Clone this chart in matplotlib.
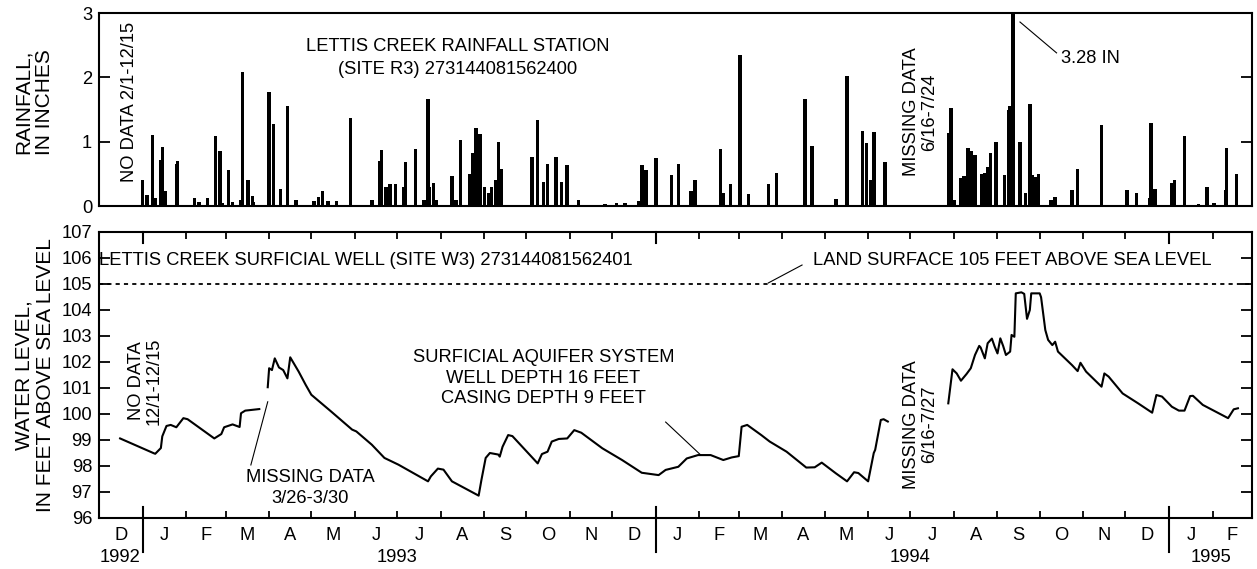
import numpy as np
import pandas as pd
import matplotlib
matplotlib.use("Agg")
import matplotlib.pyplot as plt
import matplotlib.dates as mdates
from matplotlib.ticker import FixedLocator, FixedFormatter

plt.rcParams['font.family'] = ['Liberation Sans', 'DejaVu Sans']

# daily rainfall, inches (only days with rain)
rain_dates = [
    "1992-12-26", "1993-01-01", "1993-01-04", "1993-01-08", "1993-01-10", "1993-01-14", "1993-01-15", "1993-01-17", "1993-01-25", "1993-01-26",
    "1993-02-07", "1993-02-10", "1993-02-16", "1993-02-22", "1993-02-25", "1993-02-27", "1993-03-03", "1993-03-06", "1993-03-12", "1993-03-13",
    "1993-03-17", "1993-03-20", "1993-03-21", "1993-04-01", "1993-04-04", "1993-04-09", "1993-04-14", "1993-04-20", "1993-05-03", "1993-05-06",
    "1993-05-09", "1993-05-13", "1993-05-19", "1993-05-29", "1993-06-13", "1993-06-19", "1993-06-20", "1993-06-23", "1993-06-26", "1993-06-30",
    "1993-07-06", "1993-07-07", "1993-07-14", "1993-07-20", "1993-07-23", "1993-07-24", "1993-07-27", "1993-07-29", "1993-08-09", "1993-08-12",
    "1993-08-15", "1993-08-22", "1993-08-24", "1993-08-26", "1993-08-29", "1993-09-01", "1993-09-04", "1993-09-06", "1993-09-09", "1993-09-11",
    "1993-09-13", "1993-09-19", "1993-10-05", "1993-10-09", "1993-10-13", "1993-10-16", "1993-10-22", "1993-10-26", "1993-10-30", "1993-11-07",
    "1993-11-26", "1993-12-04", "1993-12-10", "1993-12-20", "1993-12-22", "1993-12-25", "1994-01-01", "1994-01-12", "1994-01-17", "1994-01-26",
    "1994-01-29", "1994-02-16", "1994-02-18", "1994-02-23", "1994-03-02", "1994-03-08", "1994-03-22", "1994-03-28", "1994-04-17", "1994-04-22",
    "1994-05-09", "1994-05-17", "1994-05-28", "1994-05-31", "1994-06-03", "1994-06-05", "1994-06-13",
    "1994-07-28", "1994-07-30", "1994-08-01", "1994-08-06", "1994-08-08", "1994-08-11", "1994-08-13", "1994-08-16", "1994-08-21", "1994-08-23",
    "1994-08-25", "1994-08-27", "1994-08-31", "1994-09-06", "1994-09-09", "1994-09-10", "1994-09-12", "1994-09-17", "1994-09-21", "1994-09-24",
    "1994-09-26", "1994-09-28", "1994-09-30", "1994-10-09", "1994-10-12", "1994-10-24", "1994-10-28", "1994-11-14", "1994-12-02", "1994-12-09",
    "1994-12-18", "1994-12-19", "1994-12-22", "1995-01-03", "1995-01-05", "1995-01-12", "1995-01-22", "1995-01-28", "1995-02-02", "1995-02-10",
    "1995-02-11", "1995-02-18"]
rain_in = [
    0.02, 0.40, 0.17, 1.10, 0.13, 0.72, 0.92, 0.23, 0.66, 0.70,
    0.12, 0.06, 0.12, 1.09, 0.86, 0.05, 0.56, 0.06, 0.10, 2.09,
    0.40, 0.16, 0.06, 1.77, 1.28, 0.26, 1.55, 0.09, 0.07, 0.14,
    0.23, 0.08, 0.07, 1.37, 0.09, 0.70, 0.87, 0.30, 0.34, 0.34,
    0.30, 0.69, 0.88, 0.10, 1.66, 0.30, 0.36, 0.10, 0.46, 0.10,
    1.02, 0.50, 0.83, 1.22, 1.12, 0.30, 0.20, 0.30, 0.40, 1.00,
    0.57, 0.02, 0.76, 1.33, 0.37, 0.66, 0.76, 0.38, 0.63, 0.10,
    0.03, 0.05, 0.04, 0.07, 0.63, 0.56, 0.75, 0.48, 0.66, 0.23,
    0.41, 0.88, 0.20, 0.34, 2.35, 0.18, 0.34, 0.52, 1.66, 0.94,
    0.11, 2.02, 1.16, 0.98, 0.40, 1.15, 0.69,
    1.14, 1.53, 0.10, 0.43, 0.46, 0.90, 0.85, 0.80, 0.50, 0.52,
    0.60, 0.82, 1.00, 0.48, 1.50, 1.55, 3.28, 1.00, 0.20, 1.58,
    0.48, 0.45, 0.50, 0.10, 0.14, 0.25, 0.57, 1.26, 0.25, 0.20,
    0.12, 1.29, 0.26, 0.36, 0.40, 1.09, 0.03, 0.30, 0.05, 0.25,
    0.90, 0.50]

# water level, feet above sea level, three records split by missing data
well1_dates = ["1992-12-16", "1993-01-09", "1993-01-10", "1993-01-14", "1993-01-15", "1993-01-18", "1993-01-21", "1993-01-25", "1993-01-30",
               "1993-02-02", "1993-02-21", "1993-02-26", "1993-02-28", "1993-03-06", "1993-03-11", "1993-03-12", "1993-03-15", "1993-03-25"]
well1_level = [99.06, 98.49, 98.47, 98.69, 99.14, 99.54, 99.58, 99.49, 99.84,
               99.80, 99.06, 99.23, 99.49, 99.60, 99.50, 100.03, 100.13, 100.19]

well2_dates = ["1993-03-31", "1993-04-01", "1993-04-03", "1993-04-05", "1993-04-08", "1993-04-11", "1993-04-14", "1993-04-16", "1993-04-22",
               "1993-04-27", "1993-05-01", "1993-05-15", "1993-05-30", "1993-06-02", "1993-06-13", "1993-06-22", "1993-07-02", "1993-07-23",
               "1993-07-25", "1993-07-30", "1993-08-03", "1993-08-09", "1993-08-18", "1993-08-28", "1993-08-30", "1993-09-02", "1993-09-05",
               "1993-09-11", "1993-09-12", "1993-09-14", "1993-09-18", "1993-09-21", "1993-10-09", "1993-10-12", "1993-10-16", "1993-10-19",
               "1993-10-24", "1993-10-30", "1993-11-04", "1993-11-09", "1993-11-24", "1993-12-08", "1993-12-22", "1994-01-03", "1994-01-08",
               "1994-01-17", "1994-01-23", "1994-01-31", "1994-02-09", "1994-02-18", "1994-02-24", "1994-03-01", "1994-03-03", "1994-03-07",
               "1994-03-17", "1994-03-23", "1994-04-04", "1994-04-18", "1994-04-24", "1994-04-29", "1994-05-09", "1994-05-17", "1994-05-22",
               "1994-05-25", "1994-06-01", "1994-06-05", "1994-06-06", "1994-06-10", "1994-06-12", "1994-06-15"]
well2_level = [101.03, 101.76, 101.69, 102.14, 101.79, 101.69, 101.37, 102.18, 101.63,
               101.12, 100.74, 100.10, 99.40, 99.33, 98.82, 98.31, 98.05, 97.41,
               97.60, 97.90, 97.86, 97.41, 97.15, 96.86, 97.47, 98.31, 98.50,
               98.44, 98.36, 98.74, 99.19, 99.15, 98.10, 98.46, 98.55, 98.94,
               99.04, 99.06, 99.38, 99.28, 98.68, 98.23, 97.74, 97.65, 97.85,
               97.97, 98.29, 98.42, 98.42, 98.23, 98.33, 98.38, 99.51, 99.58,
               99.19, 98.94, 98.55, 97.94, 97.95, 98.13, 97.72, 97.41, 97.76,
               97.73, 97.41, 98.50, 98.62, 99.77, 99.80, 99.71]

well3_dates = ["1994-07-28", "1994-07-31", "1994-08-03", "1994-08-06", "1994-08-10", "1994-08-13", "1994-08-16", "1994-08-19", "1994-08-20",
               "1994-08-23", "1994-08-25", "1994-08-28", "1994-08-30", "1994-09-01", "1994-09-03", "1994-09-05", "1994-09-07", "1994-09-10",
               "1994-09-11", "1994-09-13", "1994-09-14", "1994-09-18", "1994-09-20", "1994-09-22", "1994-09-24", "1994-09-25", "1994-10-01",
               "1994-10-02", "1994-10-05", "1994-10-07", "1994-10-10", "1994-10-12", "1994-10-14", "1994-10-24", "1994-10-28", "1994-10-30",
               "1994-11-03", "1994-11-14", "1994-11-16", "1994-11-19", "1994-11-29", "1994-12-10", "1994-12-20", "1994-12-23", "1994-12-27",
               "1995-01-03", "1995-01-08", "1995-01-12", "1995-01-16", "1995-01-18", "1995-01-25", "1995-02-12", "1995-02-16", "1995-02-19"]
well3_level = [100.41, 101.72, 101.56, 101.28, 101.54, 101.76, 102.27, 102.62, 102.56,
               102.14, 102.72, 102.90, 102.59, 102.33, 102.91, 102.62, 102.27, 102.40,
               103.04, 102.97, 104.64, 104.68, 104.62, 103.66, 104.00, 104.64, 104.64,
               104.49, 103.23, 102.85, 102.65, 102.78, 102.40, 101.88, 101.65, 101.97,
               101.63, 101.05, 101.56, 101.44, 100.79, 100.41, 100.05, 100.73, 100.67,
               100.28, 100.13, 100.13, 100.69, 100.70, 100.35, 99.84, 100.18, 100.22]

land_surface = 105

month_labels = ["D", "J", "F", "M", "A", "M", "J", "J", "A", "S", "O", "N", "D",
                "J", "F", "M", "A", "M", "J", "J", "A", "S", "O", "N", "D", "J", "F"]
year_labels = ["1992", "1993", "1994", "1995"]
year_label_dates = ["1992-12-16", "1993-07-01", "1994-07-01", "1995-01-31"]
year_starts = ["1993-01-01", "1994-01-01", "1995-01-01"]

t0 = pd.Timestamp("1992-12-01")
t1 = pd.Timestamp("1995-03-01")
D = pd.Timestamp

W, H = 1257, 569
fig = plt.figure(figsize=(W / 100, H / 100), dpi=100)
ax1 = fig.add_axes([99 / W, 1 - 206 / H, 1153 / W, 193 / H])
ax2 = fig.add_axes([99 / W, 1 - 518 / H, 1153 / W, 286 / H])

fs = 13.2
for ax in (ax1, ax2):
    for s in ax.spines.values():
        s.set_linewidth(1.5)
    ax.set_xlim(t0, t1)
    ax.tick_params(axis='y', direction='in', length=8, width=1.3, right=True,
                   labelsize=fs, pad=5)

# rainfall
ax1.bar(pd.to_datetime(rain_dates), rain_in, width=2.5, color='black', linewidth=0)
ax1.set_ylim(0, 3)
ax1.set_yticks([0, 1, 2, 3])
ax1.set_xticks([])

ax1.text(D("1993-08-13"), 2.30, "LETTIS CREEK RAINFALL STATION\n(SITE R3) 273144081562400",
         ha='center', va='center', fontsize=fs, linespacing=1.45)
ax1.text(D("1992-12-23"), 1.62, "NO DATA 2/1-12/15", rotation=90,
         ha='center', va='center', fontsize=fs)
ax1.text(D("1994-07-08"), 1.46, "MISSING DATA\n6/16-7/24", rotation=90,
         ha='center', va='center', fontsize=fs, linespacing=1.1)
ax1.text(D("1994-10-16"), 2.29, "3.28 IN", ha='left', va='center', fontsize=fs)
ax1.plot([D("1994-09-17"), D("1994-10-13")], [2.86, 2.38], color='black', lw=0.8)

# water level
ax2.plot(pd.to_datetime(well1_dates), well1_level, color='black', lw=1.5)
ax2.plot(pd.to_datetime(well2_dates), well2_level, color='black', lw=1.5)
ax2.plot(pd.to_datetime(well3_dates), well3_level, color='black', lw=1.5)
ax2.axhline(land_surface, color='black', lw=1.3, ls=(0, (2.3, 2.3)))
ax2.set_ylim(96, 107)
ax2.set_yticks(range(96, 108))

month_starts = pd.date_range(t0, t1, freq='MS')
month_mids = month_starts[:-1] + (month_starts[1:] - month_starts[:-1]) / 2
ax2.xaxis.set_major_locator(FixedLocator(mdates.date2num(month_mids)))
ax2.xaxis.set_major_formatter(FixedFormatter(month_labels))
ax2.xaxis.set_minor_locator(FixedLocator(mdates.date2num(month_starts)))
ax2.tick_params(axis='x', which='major', length=0, pad=6.5, labelsize=fs)
ax2.tick_params(axis='x', which='minor', direction='in', length=5, width=1.3,
                top=True, bottom=True)

ph = 286.0
xt = ax2.get_xaxis_transform()
for ys in year_starts:
    ax2.plot([D(ys), D(ys)], [-34 / ph, 11 / ph], transform=xt, color='black',
             lw=1.5, clip_on=False)
    ax2.plot([D(ys), D(ys)], [1 - 11 / ph, 1], transform=xt, color='black',
             lw=1.5, clip_on=False)
for lab, dt in zip(year_labels, year_label_dates):
    ax2.text(D(dt), -39 / ph, lab, transform=xt, ha='center', va='center', fontsize=fs)

ax2.text(t0, 105.92, "LETTIS CREEK SURFICIAL WELL (SITE W3) 273144081562401",
         ha='left', va='center', fontsize=fs)
ax2.text(D("1994-04-23"), 105.92, "LAND SURFACE 105 FEET ABOVE SEA LEVEL",
         ha='left', va='center', fontsize=fs)
ax2.plot([D("1994-03-22"), D("1994-04-15")], [105.04, 105.73], color='black', lw=0.8)
ax2.text(D("1993-10-13"), 101.38, "SURFICIAL AQUIFER SYSTEM\nWELL DEPTH 16 FEET\nCASING DEPTH 9 FEET",
         ha='center', va='center', fontsize=fs, linespacing=1.25)
ax2.plot([D("1994-01-08"), D("1994-02-02")], [99.69, 98.42], color='black', lw=0.8)
ax2.text(D("1993-01-03"), 101.27, "NO DATA\n12/1-12/15", rotation=90,
         ha='center', va='center', fontsize=fs, linespacing=1.1)
ax2.text(D("1993-04-30"), 97.17, "MISSING DATA\n3/26-3/30",
         ha='center', va='center', fontsize=fs, linespacing=1.3)
ax2.plot([D("1993-03-19"), D("1993-03-31")], [98.04, 100.47], color='black', lw=0.8)
ax2.text(D("1994-07-08"), 99.6, "MISSING DATA\n6/16-7/27", rotation=90,
         ha='center', va='center', fontsize=fs, linespacing=1.1)

fig.text(34 / W, 1 - 102 / H, "RAINFALL,\nIN INCHES", rotation=90,
         ha='center', va='center', fontsize=15, linespacing=1.15)
fig.text(35 / W, 1 - 375 / H, "WATER LEVEL,\nIN FEET ABOVE SEA LEVEL", rotation=90,
         ha='center', va='center', fontsize=15, linespacing=1.15)

fig.savefig("out.png", dpi=100)
